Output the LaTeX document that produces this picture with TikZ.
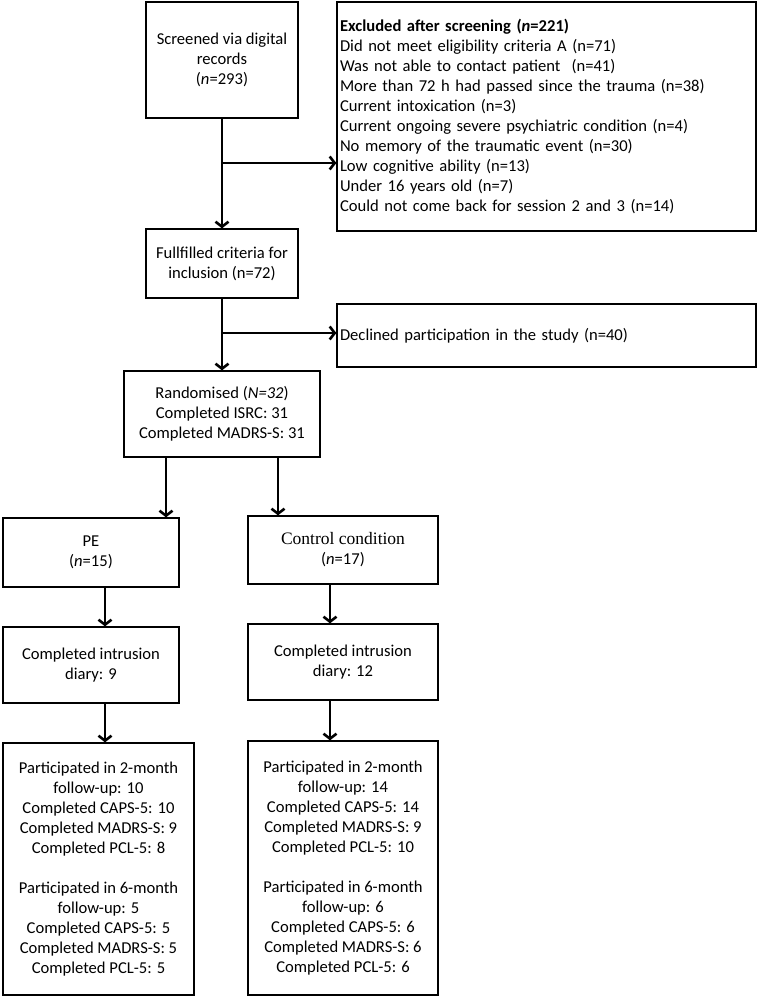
\documentclass[tikz,border=0pt]{standalone}
\usepackage{fontspec}
\setmainfont{Carlito}
\newfontfamily\serifctl{Liberation Serif}
\usetikzlibrary{arrows.meta}
\begin{document}
\begin{tikzpicture}[x=1pt,y=-1pt,
	box/.style={draw,line width=1.3pt,align=center,inner xsep=1pt,inner ysep=4pt,font=\fontsize{16.6}{20}\selectfont},
	flow/.style={line width=2.6pt,-{Straight Barb[length=5pt,width=13pt]}}]
	\useasboundingbox (0,0) rectangle (758,997);
	\node[box,minimum width=152pt,minimum height=116pt] (screen) at (222,60) {Screened via digital\\records\\(\textit{n}=293)};
	\node[box,minimum width=419pt,minimum height=229pt,text width=413pt,align=left] (excl) at (546.5,116.5) {\textbf{Excluded after screening (\textit{n}=221)}\\Did not meet eligibility criteria A (n=71)\\Was not able to contact patient \ (n=41)\\More than 72 h had passed since the trauma (n=38)\\Current intoxication (n=3)\\Current ongoing severe psychiatric condition (n=4)\\No memory of the traumatic event (n=30)\\Low cognitive ability (n=13)\\Under 16 years old (n=7)\\Could not come back for session 2 and 3 (n=14)};
	\node[box,minimum width=152pt,minimum height=69pt] (incl) at (222,263.5) {Fullfilled criteria for\\inclusion (n=72)};
	\node[box,minimum width=419pt,minimum height=63pt,text width=413pt,align=left] (decl) at (546.5,335.5) {Declined participation in the study (n=40)};
	\node[box,minimum width=196pt,minimum height=86pt] (rand) at (222,414) {Randomised (\textit{N=32})\\Completed ISRC: 31\\Completed MADRS-S: 31};
	\node[box,minimum width=176pt,minimum height=69pt] (pe) at (91,552.5) {PE\\(\textit{n}=15)};
	\node[box,minimum width=190pt,minimum height=68pt] (ctrl) at (343,550) {{\serifctl\fontsize{17.5}{20}\selectfont Control condition}\\(\textit{n}=17)};
	\node[box,minimum width=176pt,minimum height=76pt] (pediary) at (91,665) {Completed intrusion\\diary: 9};
	\node[box,minimum width=190pt,minimum height=76pt] (ctdiary) at (343,662) {Completed intrusion\\diary: 12};
	\node[box,minimum width=191pt,minimum height=252pt] (pefu) at (98.5,869) {Participated in 2-month\\follow-up: 10\\Completed CAPS-5: 10\\Completed MADRS-S: 9\\Completed PCL-5: 8\\[20pt]Participated in 6-month\\follow-up: 5\\Completed CAPS-5: 5\\Completed MADRS-S: 5\\Completed PCL-5: 5};
	\node[box,minimum width=190pt,minimum height=254pt] (ctfu) at (343,868) {Participated in 2-month\\follow-up: 14\\Completed CAPS-5: 14\\Completed MADRS-S: 9\\Completed PCL-5: 10\\[20pt]Participated in 6-month\\follow-up: 6\\Completed CAPS-5: 6\\Completed MADRS-S: 6\\Completed PCL-5: 6};
	\coordinate (b1) at (screen.south |- 0,163);
	\coordinate (b2) at (incl.south |- 0,333);
	\draw[flow] (screen.south) -- (incl.north);
	\draw[flow] (b1) -- (b1 -| excl.west);
	\draw[flow] (incl.south) -- (rand.north);
	\draw[flow] (b2) -- (b2 -| decl.west);
	\draw[flow] ([xshift=-56pt]rand.south) -- ([xshift=-56pt]rand.south |- pe.north);
	\draw[flow] ([xshift=56pt]rand.south) -- ([xshift=56pt]rand.south |- ctrl.north);
	\draw[flow] ([xshift=14pt]pe.south) -- ([xshift=14pt]pe.south |- pediary.north);
	\draw[flow] ([xshift=-13pt]ctrl.south) -- ([xshift=-13pt]ctrl.south |- ctdiary.north);
	\draw[flow] ([xshift=14pt]pediary.south) -- ([xshift=14pt]pediary.south |- pefu.north);
	\draw[flow] ([xshift=-13pt]ctdiary.south) -- ([xshift=-13pt]ctdiary.south |- ctfu.north);
\end{tikzpicture}
\end{document}
